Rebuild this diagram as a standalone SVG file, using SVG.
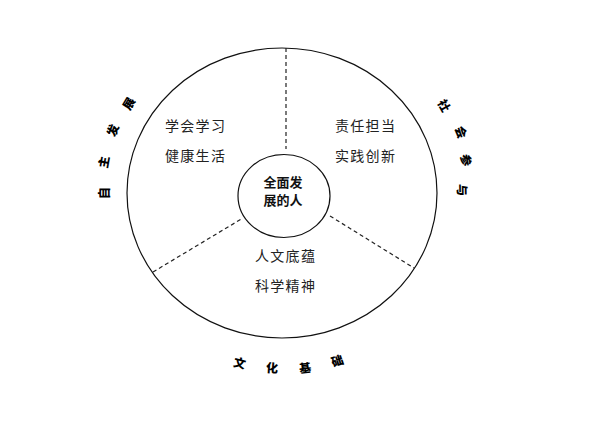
<svg xmlns="http://www.w3.org/2000/svg" width="592" height="423" viewBox="0 0 592 423">
<style>
.ring{fill:none;stroke:#111;stroke-width:1.2}
.dash{fill:none;stroke:#222;stroke-width:1.2;stroke-dasharray:4 3}
.t{font-family:"Noto Sans CJK SC","Noto Sans",sans-serif;font-size:14px;fill:#222;letter-spacing:1.3px}
.c{font-family:"Noto Sans CJK SC","Noto Sans",sans-serif;font-size:13px;font-weight:bold;fill:#111;text-anchor:middle}
.o{font-family:"Noto Sans CJK SC","Noto Sans",sans-serif;font-size:12px;font-weight:900;fill:#000;text-anchor:middle;dominant-baseline:central}
</style>
<rect width="592" height="423" fill="#fff"/>
<g id="outer-circle">
<ellipse class="ring" cx="282" cy="193" rx="155" ry="145"/>
</g>
<g id="connectors">
<line class="dash" x1="286" y1="48" x2="286" y2="149"/>
<line class="dash" x1="153" y1="272" x2="243" y2="218"/>
<line class="dash" x1="330" y1="216" x2="414" y2="268"/>
</g>
<g id="center">
<ellipse class="ring" cx="284" cy="196" rx="46" ry="41.5"/>
<text class="c" x="283" y="187">全面发</text>
<text class="c" x="283" y="205">展的人</text>
</g>
<g id="sector-left">
<text class="t" x="165" y="131">学会学习</text>
<text class="t" x="165" y="161">健康生活</text>
</g>
<g id="sector-right">
<text class="t" x="335" y="131">责任担当</text>
<text class="t" x="335" y="161">实践创新</text>
</g>
<g id="sector-bottom">
<text class="t" x="255" y="261">人文底蕴</text>
<text class="t" x="255" y="291">科学精神</text>
</g>
<g id="label-left">
<text class="o" transform="translate(103,193) rotate(-90)">自</text>
<text class="o" transform="translate(103,162) rotate(-80)">主</text>
<text class="o" transform="translate(112,130) rotate(-70)">发</text>
<text class="o" transform="translate(128,103) rotate(-60)">展</text>
</g>
<g id="label-right">
<text class="o" transform="translate(445,105) rotate(61)">社</text>
<text class="o" transform="translate(462,132) rotate(71)">会</text>
<text class="o" transform="translate(467,160) rotate(80)">参</text>
<text class="o" transform="translate(463,190) rotate(89)">与</text>
</g>
<g id="label-bottom">
<text class="o" transform="translate(240,362) rotate(14)">文</text>
<text class="o" transform="translate(272,367) rotate(4)">化</text>
<text class="o" transform="translate(305,367) rotate(-7)">基</text>
<text class="o" transform="translate(337,360) rotate(-18)">础</text>
</g>
</svg>
